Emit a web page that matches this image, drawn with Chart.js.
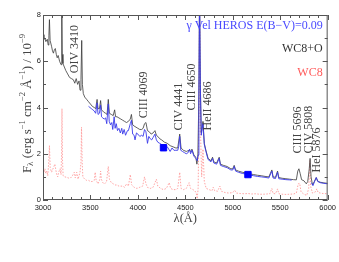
<!DOCTYPE html>
<html>
<head>
<meta charset="utf-8">
<script src="https://cdn.jsdelivr.net/npm/chart.js@4/dist/chart.umd.min.js"></script>
<style>
  html, body { margin: 0; padding: 0; background: #fff; }
  #wrap { width: 339px; height: 262px; }
</style>
</head>
<body>
<div id="wrap"><canvas id="spec"></canvas></div>
<script>
// WC8+O composite (black)
const wcoWave = [3000,3010,3020,3030,3045,3055,3062,3068,3075,3090,3100,3110,3120,3130,3140,3150,3160,3175,3190,3196,3199,3203,3210,3225,3240,3260,3280,3300,3320,3335,3350,3365,3380,3390,3400,3408,3415,3425,3440,3460,3480,3500,3520,3540,3555,3570,3580,3595,3607,3617,3640,3660,3675,3688,3700,3720,3740,3755,3765,3780,3800,3820,3840,3860,3880,3900,3920,3932,3945,3960,3980,4000,4020,4040,4055,4070,4085,4101,4120,4140,4160,4180,4195,4210,4230,4250,4280,4310,4340,4370,4400,4420,4441,4455,4480,4510,4540,4555,4570,4590,4610,4622,4632,4643,4650,4658,4668,4686,4700,4717,4740,4770,4787,4800,4830,4857,4870,4900,4940,4980,5000,5015,5030,5060,5100,5140,5180,5220,5260,5300,5340,5380,5412,5425,5450,5472,5485,5520,5560,5600,5640,5670,5685,5697,5710,5725,5750,5775,5790,5805,5815,5825,5840,5860,5880,5895,5920,5960,6000];
const wcoFlux = [7.15,6.95,7.0,6.85,6.95,6.7,7.1,7.8,6.9,6.65,6.45,6.35,6.5,6.55,6.3,6.15,6.25,6.0,5.85,6.6,8.8,6.3,5.9,5.75,5.6,5.45,5.3,5.25,5.2,5.05,5.25,5.0,5.15,4.75,5.2,6.9,5.0,4.6,4.45,4.35,4.25,4.15,4.05,4.0,3.95,4.35,3.95,3.95,4.3,3.9,3.8,3.75,3.7,4.35,3.75,3.7,3.65,3.9,3.6,3.6,3.55,3.5,3.45,3.4,3.35,3.4,3.5,3.7,3.25,3.2,3.15,3.1,3.05,3.05,3.1,3.3,3.35,3.0,2.95,2.85,2.9,3.0,2.8,2.75,2.65,2.6,2.5,2.45,2.35,2.3,2.25,2.25,2.85,2.25,2.15,2.1,2.15,2.1,2.2,1.95,1.85,1.55,1.9,4.5,9.0,5.0,2.9,3.4,2.45,2.15,1.8,1.7,1.85,1.65,1.6,1.85,1.55,1.5,1.45,1.35,1.35,1.5,1.3,1.25,1.2,1.17,1.13,1.1,1.07,1.05,1.02,1.0,1.3,1.0,0.98,1.25,0.97,0.94,0.92,0.9,0.88,0.87,1.25,1.35,1.15,0.88,0.83,0.7,0.8,1.3,1.8,1.0,0.65,0.8,0.97,0.82,0.77,0.74,0.72];

// gamma Vel HEROS (blue), gap between the two arms
const herosWave = [3480,3495,3510,3525,3540,3555,3570,3580,3595,3607,3617,3630,3645,3660,3672,3688,3698,3712,3725,3735,3750,3760,3772,3785,3800,3815,3830,3840,3855,3870,3890,3900,3920,3932,3945,3960,3970,3985,4000,4020,4040,4055,4070,4085,4101,4115,4130,4145,4160,4180,4195,4210,4230,4250,4270,4290,4310,4340,4360,4380,4400,4420,4430,4441,4452,4470,4490,4510,4530,4545,4555,4570,4590,4610,4625,4635,4643,4650,4658,4668,4686,4700,4717,4740,4770,4787,4800,4830,4857,4870,4900,4940,4980,5000,5015,5030,5060,5100,5140,5180,5220,5260,5300,5340,5380,5412,5425,5450,5472,5485,5520,5560,5600,5620,5720,5830,5845,5860,5880,5895,5920,5960,6000];
const herosFlux = [4.05,4.0,3.95,3.9,3.85,3.75,4.2,3.7,3.75,4.1,3.6,3.55,3.5,3.55,3.3,4.15,3.4,3.25,3.35,3.05,3.6,3.1,3.3,3.0,3.1,2.9,3.1,2.85,3.05,2.8,3.0,3.0,3.3,3.45,2.85,2.8,2.6,2.9,2.85,2.75,2.8,2.75,3.05,2.95,2.45,2.75,2.65,2.6,2.7,2.85,2.6,2.5,2.45,2.4,2.35,2.35,2.3,2.1,2.25,2.15,2.15,2.15,2.3,2.75,2.15,2.1,2.05,2.0,2.05,2.2,2.0,2.15,1.9,1.8,1.7,1.95,4.5,9.0,5.0,2.8,3.3,2.4,2.1,1.75,1.65,1.8,1.6,1.55,1.8,1.5,1.45,1.4,1.3,1.3,1.45,1.25,1.2,1.15,1.12,1.08,1.05,1.02,1.0,0.98,0.95,1.25,0.95,0.93,1.2,0.92,0.9,0.88,0.87,0.86,null,0.75,0.62,0.78,0.97,0.8,0.75,0.72,0.7];

// WC8 template (red, dotted)
const wc8Wave = [3000,3010,3020,3030,3040,3050,3060,3068,3076,3090,3100,3115,3125,3135,3145,3155,3165,3180,3190,3196,3200,3205,3212,3230,3250,3270,3290,3310,3330,3340,3355,3370,3390,3400,3406,3413,3420,3440,3460,3480,3500,3520,3540,3550,3560,3580,3600,3607,3615,3630,3650,3670,3688,3700,3720,3740,3760,3780,3800,3820,3840,3860,3880,3900,3920,3935,3960,3990,4020,4050,4070,4085,4100,4130,4160,4180,4195,4210,4240,4270,4300,4330,4345,4370,4400,4420,4441,4455,4480,4510,4540,4555,4580,4600,4615,4625,4635,4643,4650,4660,4672,4686,4700,4720,4750,4780,4794,4810,4840,4864,4880,4920,4960,5000,5020,5040,5080,5120,5160,5200,5240,5280,5320,5360,5390,5412,5425,5450,5472,5485,5520,5560,5600,5640,5670,5690,5705,5720,5750,5780,5800,5812,5820,5840,5870,5885,5900,5950,6000];
const wc8Flux = [1.3,1.2,1.35,1.15,1.25,1.05,1.6,2.35,1.4,1.2,1.3,1.45,1.55,1.3,1.1,1.0,1.2,1.35,1.1,2.0,3.95,1.8,1.05,1.0,0.98,0.95,0.95,1.05,1.2,0.95,1.2,0.9,1.2,1.6,3.15,1.6,1.0,0.9,0.85,0.85,0.8,0.8,0.85,1.2,0.85,0.7,0.9,1.25,0.9,0.75,0.7,0.8,1.45,0.9,0.75,0.7,0.65,0.65,0.6,0.6,0.6,0.55,0.7,0.6,1.1,0.65,0.55,0.5,0.55,0.6,1.0,0.7,0.55,0.5,0.55,0.75,0.9,0.6,0.5,0.45,0.5,0.75,0.5,0.45,0.45,0.5,1.2,0.5,0.45,0.5,0.75,0.5,0.45,0.4,0.3,0.05,0.5,3.0,9.0,3.0,1.0,2.2,0.8,0.5,0.45,0.4,0.55,0.4,0.38,0.6,0.38,0.32,0.3,0.32,0.42,0.3,0.28,0.27,0.28,0.26,0.27,0.25,0.25,0.26,0.27,0.5,0.28,0.27,0.48,0.27,0.25,0.24,0.25,0.26,0.3,0.7,0.72,0.35,0.25,0.2,0.5,1.7,0.6,0.3,0.35,0.48,0.32,0.28,0.27];

// photometric points (blue squares)
const photWave = [4270, 5160];
const photFlux = [2.26, 1.10];

// line identifications
const lineNames  = ['OIV 3410', 'CIII 4069', 'CIV 4441', 'CIII 4650', 'HeII 4686', 'CIII 5696', 'CIV 5808', 'HeI 5876'];
const lineLabelX = [3338, 4064, 4430, 4569, 4734, 5684, 5799, 5886];
const lineLabelY = [5.48, 3.53, 3.01, 3.87, 3.01, 2.01, 2.01, 1.19];

const legendNames  = ['γ Vel HEROS E(B−V)=0.09', 'WC8+O', 'WC8'];
const legendColors = ['#4a4aff', '#333333', '#ff5a5a'];
const legendY      = [7.53, 6.52, 5.49];

const pts = (w, f) => w.map((v, i) => ({ x: v, y: f[i] }));

const SERIF = '"Liberation Serif", "DejaVu Serif", serif';

const decor = {
  id: 'decor',
  afterDatasetsDraw(chart) {
    const { ctx, chartArea: a, scales: { x, y } } = chart;
    ctx.save();
    // frame + inward ticks on all sides
    ctx.strokeStyle = '#555';
    ctx.lineWidth = 1;
    ctx.strokeRect(a.left + 0.5, a.top + 0.5, a.right - a.left - 1, a.bottom - a.top - 1);
    ctx.beginPath();
    for (let w = 3000; w <= 6000; w += 100) {
      const px = Math.round(x.getPixelForValue(w)) + 0.5;
      const len = w % 500 === 0 ? 5 : 3;
      ctx.moveTo(px, a.bottom); ctx.lineTo(px, a.bottom - len);
      ctx.moveTo(px, a.top); ctx.lineTo(px, a.top + len);
    }
    for (let f = 0; f <= 8; f++) {
      const py = Math.round(y.getPixelForValue(f)) + 0.5;
      const len = f % 2 === 0 ? 5 : 3;
      ctx.moveTo(a.left, py); ctx.lineTo(a.left + len, py);
      ctx.moveTo(a.right, py); ctx.lineTo(a.right - len, py);
    }
    ctx.stroke();

    // line ids, rotated
    ctx.fillStyle = '#444';
    ctx.font = '12px ' + SERIF;
    ctx.textAlign = 'left';
    ctx.textBaseline = 'middle';
    lineNames.forEach((t, i) => {
      ctx.save();
      ctx.translate(x.getPixelForValue(lineLabelX[i]), y.getPixelForValue(lineLabelY[i]));
      ctx.rotate(-Math.PI / 2);
      ctx.fillText(t, 0, 0);
      ctx.restore();
    });

    // legend texts
    ctx.textAlign = 'right';
    ctx.font = '12px ' + SERIF;
    legendNames.forEach((t, i) => {
      ctx.fillStyle = legendColors[i];
      ctx.fillText(t, a.right - 5, y.getPixelForValue(legendY[i]));
    });

    // x title
    ctx.fillStyle = '#444';
    ctx.textAlign = 'center';
    ctx.font = '12.5px ' + SERIF;
    ctx.fillText('λ(Å)', (a.left + a.right) / 2, a.bottom + 19);

    // y title with sub/superscripts
    const segs = [
      ['F', 13, 0], ['λ', 9, 3], [' (erg s', 13, 0], ['−1', 8.5, -5],
      [' cm', 13, 0], ['−2', 8.5, -5], [' Å', 13, 0], ['−1', 8.5, -5],
      [') / 10', 13, 0], ['−9', 8.5, -5]
    ];
    let total = 0;
    segs.forEach(s => { ctx.font = s[1] + 'px ' + SERIF; total += ctx.measureText(s[0]).width; });
    ctx.save();
    ctx.translate(28, (a.top + a.bottom) / 2 - 4);
    ctx.rotate(-Math.PI / 2);
    ctx.textAlign = 'left';
    let cx = -total / 2;
    segs.forEach(s => {
      ctx.font = s[1] + 'px ' + SERIF;
      ctx.fillText(s[0], cx, s[2]);
      cx += ctx.measureText(s[0]).width;
    });
    ctx.restore();
    ctx.restore();
  }
};

const tickFont = { family: 'Liberation Sans', size: 7.5 };

new Chart(document.getElementById('spec'), {
  type: 'line',
  data: {
    datasets: [
      {
        label: 'phot',
        type: 'scatter',
        data: pts(photWave, photFlux),
        backgroundColor: '#0000ff',
        borderColor: '#0000ff',
        pointStyle: 'rect',
        pointRadius: 4.5,
        order: 1
      },
      {
        label: 'HEROS',
        data: pts(herosWave, herosFlux),
        borderColor: '#3a3aea',
        borderWidth: 0.9,
        pointRadius: 0,
        spanGaps: false,
        order: 2
      },
      {
        label: 'WC8+O',
        data: pts(wcoWave, wcoFlux),
        borderColor: '#3a3a3a',
        borderWidth: 0.8,
        pointRadius: 0,
        order: 3
      },
      {
        label: 'WC8',
        data: pts(wc8Wave, wc8Flux),
        borderColor: '#ff9a9a',
        borderWidth: 0.9,
        borderDash: [1.5, 1.5],
        pointRadius: 0,
        order: 4
      }
    ]
  },
  options: {
    responsive: true,
    maintainAspectRatio: false,
    animation: false,
    events: [],
    layout: { padding: { top: 15, right: 10, left: 0, bottom: 0 } },
    plugins: { legend: { display: false }, tooltip: { enabled: false } },
    scales: {
      x: {
        type: 'linear',
        min: 3000, max: 6000,
        grid: { display: false, drawTicks: false },
        border: { display: false },
        ticks: { stepSize: 500, padding: 3, maxRotation: 0, color: '#222', font: tickFont, callback: v => String(v) },
        afterFit: s => { s.height = 62; }
      },
      y: {
        min: 0, max: 8,
        grid: { display: false, drawTicks: false },
        border: { display: false },
        ticks: { stepSize: 2, padding: 2, color: '#222', font: tickFont, callback: v => String(v) },
        afterFit: s => { s.width = 43; }
      }
    }
  },
  plugins: [decor]
});
</script>
</body>
</html>
